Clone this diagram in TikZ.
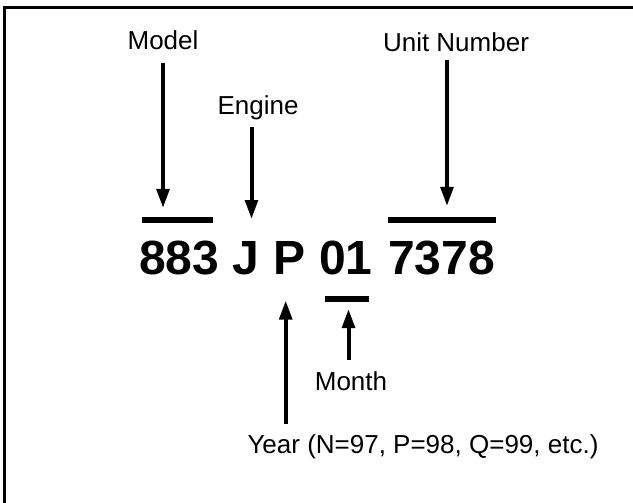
\documentclass[tikz,border=0pt]{standalone}
\usepackage{fontspec}
\setmainfont{Liberation Sans}
\usetikzlibrary{arrows.meta}
\begin{document}
\begin{tikzpicture}[x=1pt,y=-1pt,
  lbl/.style={anchor=base,inner sep=0pt,font=\fontsize{26}{30}\selectfont},
  code/.style={anchor=base,inner sep=0pt,font=\fontsize{48}{56}\selectfont\bfseries},
  arr/.style={line width=4pt,-{Triangle[length=19pt,width=12.5pt]}},
  bar/.style={line width=6pt},
  frame/.style={line width=3pt}]
\useasboundingbox (0,0) rectangle (633,503);
% frame (top and left edges)
\coordinate (fa) at (4.8,503);
\coordinate (fb) at (4.8,7.5);
\coordinate (fc) at (633,7.5);
\draw[frame] (fa) -- (fb) -- (fc);
% labels
\node[lbl] (model) at (163,50) {Model};
\node[lbl] (engine) at (258,114) {Engine};
\node[lbl] (unit) at (456,52) {Unit Number};
\node[lbl] (month) at (351,390) {Month};
\node[lbl] (year) at (423,453.5) {Year (N=97, P=98, Q=99, etc.)};
% code
\node[code] (c883) at (179.2,274.5) {883};
\node[code] (cJ) at (245.8,274.5) {J};
\node[code] (cP) at (289.2,274.5) {P};
\node[code] (c01) at (345.8,274.5) {01};
\node[code] (c7378) at (441.7,274.5) {7378};
% bars
\coordinate (b1l) at (141.7,220);
\coordinate (b1r) at (213.3,220);
\coordinate (b2l) at (388,220);
\coordinate (b2r) at (496,220);
\coordinate (b3l) at (325,299);
\coordinate (b3r) at (369.3,299);
\draw[bar] (b1l) -- (b1r);
\draw[bar] (b2l) -- (b2r);
\draw[bar] (b3l) -- (b3r);
% arrow tips
\coordinate (mtip) at (163,208);
\coordinate (etip) at (251.5,219);
\coordinate (utip) at (447,206);
\coordinate (ytip) at (285.7,300.5);
\coordinate (ntip) at (348.5,309);
% arrows
\draw[arr] (mtip |- model.base) ++(0,13) -- (mtip);
\draw[arr] (etip |- engine.base) ++(0,12.7) -- (etip);
\draw[arr] (utip |- unit.base) ++(0,8) -- (utip);
\draw[arr] (ytip |- year.base) ++(0,-29.5) -- (ytip);
\draw[arr] (ntip |- month.base) ++(0,-30) -- (ntip);
\end{tikzpicture}
\end{document}
